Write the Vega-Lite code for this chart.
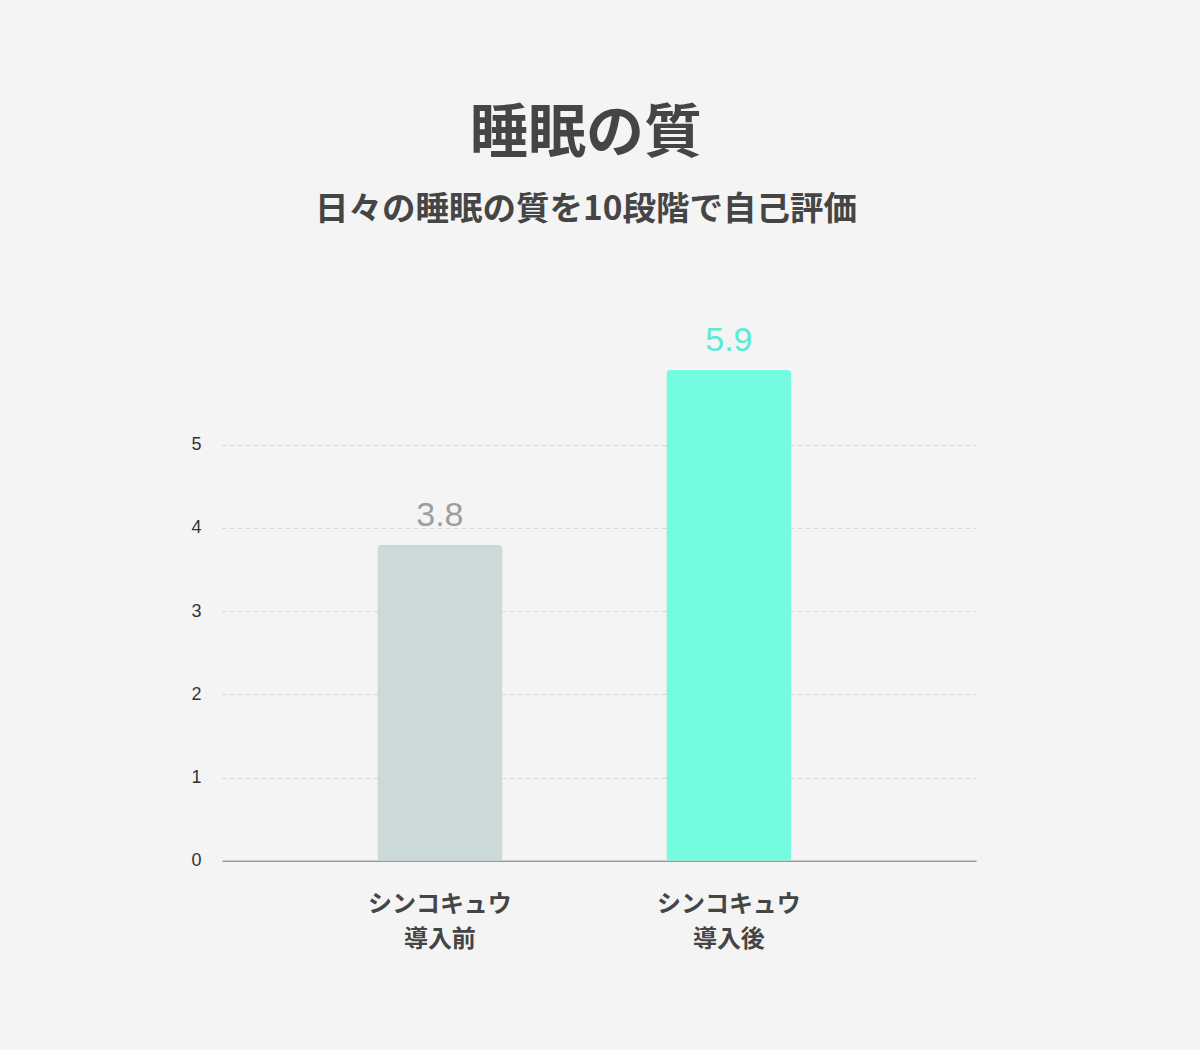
{
  "$schema": "https://vega.github.io/schema/vega-lite/v6.json",
  "autosize": "none",
  "width": 754,
  "height": 540.8,
  "padding": {"left": 222, "top": 320, "right": 224, "bottom": 189},
  "background": "#f3f4f3",
  "view": {"stroke": null},
  "title": {
    "text": "睡眠の質",
    "subtitle": "日々の睡眠の質を10段階で自己評価",
    "anchor": "middle",
    "dx": -13,
    "font": "Noto Sans CJK JP",
    "fontSize": 58,
    "fontWeight": "bold",
    "color": "#454545",
    "subtitleFont": "Noto Sans CJK JP",
    "subtitleFontSize": 33.5,
    "subtitleFontWeight": "bold",
    "subtitleColor": "#454545",
    "subtitlePadding": 30,
    "offset": 93
  },
  "data": {
    "values": [
      {"group": "シンコキュウ\n導入前", "score": 3.8},
      {"group": "シンコキュウ\n導入後", "score": 5.9}
    ]
  },
  "encoding": {
    "x": {
      "field": "group",
      "type": "nominal",
      "sort": null,
      "scale": {"paddingInner": 0.567, "paddingOuter": 0.588, "align": 0.457},
      "axis": {
        "title": null,
        "labelAngle": 0,
        "labelExpr": "split(datum.label, '\\n')",
        "labelFont": "Noto Sans CJK JP",
        "labelFontSize": 24,
        "labelFontWeight": "bold",
        "labelColor": "#454545",
        "labelLineHeight": 35,
        "labelPadding": 32,
        "ticks": false,
        "domainColor": "#9a9a9a",
        "domainWidth": 1.5
      }
    },
    "y": {
      "field": "score",
      "type": "quantitative",
      "scale": {"domain": [0, 6.5], "nice": false},
      "axis": {
        "title": null,
        "values": [0, 1, 2, 3, 4, 5],
        "domain": false,
        "ticks": false,
        "labelPadding": 21,
        "labelFont": "Liberation Sans",
        "labelFontSize": 18,
        "labelColor": "#333333",
        "gridColor": "#d4d6d4",
        "gridDash": [4, 4],
        "gridWidth": 1
      }
    },
    "color": {
      "field": "group",
      "type": "nominal",
      "legend": null,
      "scale": {
        "domain": ["シンコキュウ\n導入前", "シンコキュウ\n導入後"],
        "range": ["#cbdad9", "#74fbe0"]
      }
    }
  },
  "layer": [
    {
      "mark": {"type": "bar", "cornerRadius": 4}
    },
    {
      "mark": {"type": "text", "baseline": "alphabetic", "dy": -19, "font": "Liberation Sans", "fontSize": 34},
      "encoding": {
        "text": {"field": "score", "type": "quantitative", "format": ".1f"},
        "color": {
          "field": "group",
          "type": "nominal",
          "legend": null,
          "scale": {
            "domain": ["シンコキュウ\n導入前", "シンコキュウ\n導入後"],
            "range": ["#9a9f9e", "#5ee8d6"]
          }
        }
      }
    }
  ],
  "resolve": {"scale": {"color": "independent"}}
}
